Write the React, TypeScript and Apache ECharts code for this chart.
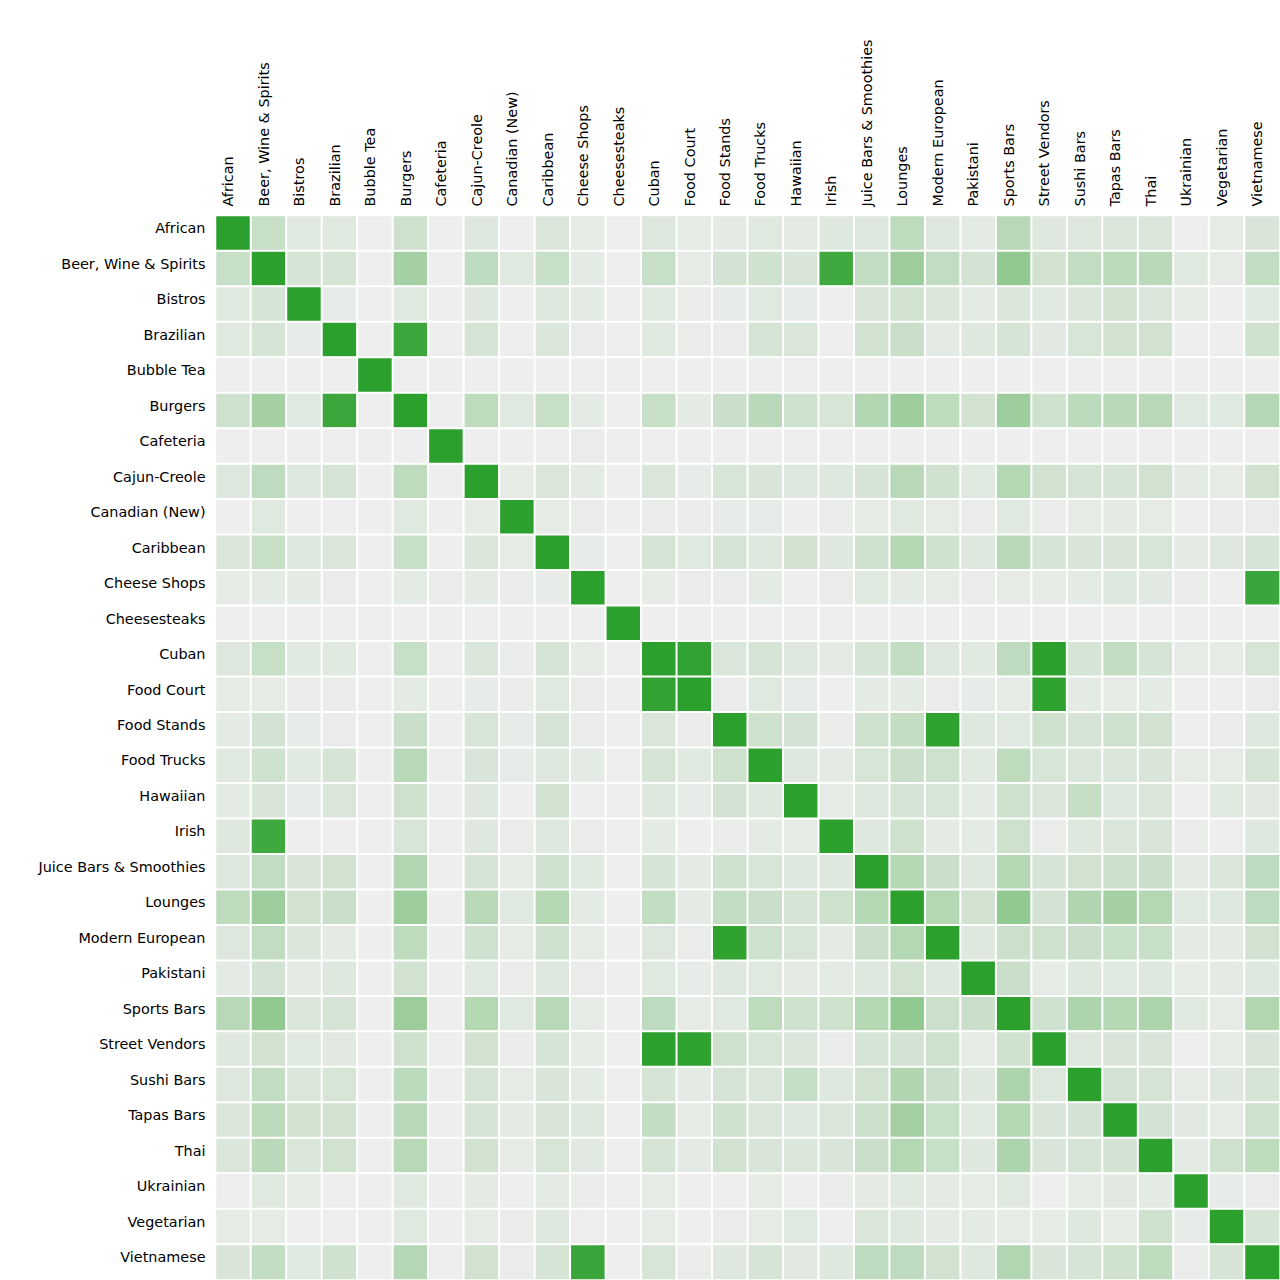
import React, { useEffect, useRef } from "react";
import * as echarts from "echarts";

const categories = [
  "African", "Beer, Wine & Spirits", "Bistros", "Brazilian", "Bubble Tea", "Burgers",
  "Cafeteria", "Cajun-Creole", "Canadian (New)", "Caribbean", "Cheese Shops", "Cheesesteaks",
  "Cuban", "Food Court", "Food Stands", "Food Trucks", "Hawaiian", "Irish",
  "Juice Bars & Smoothies", "Lounges", "Modern European", "Pakistani", "Sports Bars",
  "Street Vendors", "Sushi Bars", "Tapas Bars", "Thai", "Ukrainian", "Vegetarian", "Vietnamese",
];

const rowAfrican = [1,0.2,0.07,0.07,0,0.17,0,0.09,0,0.1,0.04,0,0.09,0.04,0.05,0.07,0.05,0.08,0.09,0.25,0.09,0.05,0.28,0.08,0.09,0.1,0.1,0.01,0.04,0.11];
const rowBeer = [0.2,1,0.13,0.13,0,0.38,0,0.24,0.07,0.2,0.05,0,0.2,0.04,0.14,0.16,0.11,0.9,0.23,0.42,0.23,0.14,0.48,0.15,0.22,0.26,0.27,0.07,0.04,0.22];
const rowBistros = [0.07,0.13,1,0.03,0,0.07,0,0.08,0,0.08,0.05,0,0.07,0.02,0.03,0.07,0.03,0,0.11,0.15,0.1,0.05,0.1,0.07,0.1,0.15,0.1,0.04,0,0.07];
const rowBrazilian = [0.07,0.13,0.03,1,0,0.92,0,0.13,0,0.1,0.02,0,0.07,0.02,0.02,0.13,0.1,0,0.15,0.19,0.05,0.08,0.13,0.06,0.12,0.15,0.15,0,0,0.16];
const rowBubbleTea = [0,0,0,0,1,0,0,0,0,0,0,0,0,0,0,0,0.01,0,0,0,0,0,0,0,0,0,0,0,0,0];
const rowBurgers = [0.17,0.38,0.07,0.92,0,1,0,0.25,0.07,0.2,0.05,0,0.2,0.05,0.19,0.27,0.17,0.12,0.31,0.42,0.25,0.15,0.42,0.17,0.26,0.27,0.28,0.07,0.07,0.29];
const rowCafeteria = [0,0,0,0,0,0,1,0,0,0,0.02,0,0,0,0,0,0,0,0,0,0,0,0,0,0,0,0,0,0,0.01];
const rowCajun = [0.09,0.24,0.08,0.13,0,0.25,0,1,0.04,0.1,0.05,0,0.1,0.03,0.12,0.11,0.08,0.08,0.13,0.28,0.16,0.07,0.3,0.15,0.13,0.13,0.15,0.05,0.04,0.15];
const rowCanadian = [0,0.07,0,0,0,0.07,0,0.04,1,0.04,0.02,0,0.02,0.02,0.03,0.03,0,0.02,0.04,0.07,0.04,0.02,0.07,0.02,0.04,0.05,0.04,0,0.02,0.02];
const rowCaribbean = [0.1,0.2,0.08,0.1,0,0.2,0,0.1,0.04,1,0.03,0,0.13,0.07,0.13,0.08,0.15,0.08,0.16,0.3,0.16,0.08,0.28,0.13,0.11,0.11,0.12,0.05,0.08,0.13];
const rowCheeseShops = [0.04,0.05,0.05,0.02,0,0.05,0.02,0.05,0.02,0.03,1,0,0.04,0.02,0.02,0.05,0,0.02,0.07,0.05,0.04,0.02,0.04,0.04,0.05,0.08,0.06,0.02,0.01,0.93];
const rowCheesesteaks = [0,0,0,0,0,0,0,0,0,0,0,1,0,0,0,0,0,0,0,0,0,0,0,0,0,0,0,0,0,0];
const rowCuban = [0.09,0.2,0.07,0.07,0,0.2,0,0.1,0.02,0.13,0.04,0,1,0.97,0.1,0.13,0.08,0.05,0.13,0.22,0.09,0.07,0.24,1,0.13,0.22,0.13,0.04,0.04,0.12];
const rowFoodCourt = [0.04,0.04,0.02,0.02,0,0.05,0,0.03,0.02,0.07,0.02,0,0.97,1,0.02,0.07,0.03,0,0.05,0.05,0.02,0.03,0.04,0.98,0.05,0.04,0.05,0,0,0.02];
const rowFoodStands = [0.05,0.14,0.03,0.02,0,0.19,0,0.12,0.03,0.13,0.02,0,0.1,0.02,1,0.17,0.14,0.02,0.16,0.22,0.98,0.08,0.07,0.17,0.13,0.16,0.15,0,0.02,0.08];
const rowFoodTrucks = [0.07,0.16,0.07,0.13,0,0.27,0,0.11,0.03,0.08,0.05,0,0.13,0.07,0.17,1,0.08,0.05,0.12,0.19,0.17,0.07,0.25,0.12,0.1,0.1,0.11,0.04,0.04,0.13];
const rowHawaiian = [0.05,0.11,0.03,0.1,0.01,0.17,0,0.08,0,0.15,0,0,0.08,0.03,0.14,0.08,1,0.04,0.09,0.13,0.12,0.05,0.17,0.1,0.21,0.08,0.1,0,0.07,0.06];
const rowIrish = [0.08,0.9,0,0,0,0.12,0,0.08,0.02,0.08,0.02,0,0.05,0,0.02,0.05,0.04,1,0.08,0.17,0.05,0.05,0.17,0.02,0.08,0.1,0.11,0.02,0,0.08];
const rowJuiceBars = [0.09,0.23,0.11,0.15,0,0.31,0,0.13,0.04,0.16,0.07,0,0.13,0.05,0.16,0.12,0.09,0.08,1,0.3,0.19,0.08,0.3,0.13,0.15,0.18,0.19,0.05,0.1,0.24];
const rowLounges = [0.25,0.42,0.15,0.19,0,0.42,0,0.28,0.07,0.3,0.05,0,0.22,0.05,0.22,0.19,0.13,0.17,0.3,1,0.3,0.15,0.48,0.14,0.32,0.38,0.3,0.07,0.08,0.24];
const rowModernEuropean = [0.09,0.23,0.1,0.05,0,0.25,0,0.16,0.04,0.16,0.04,0,0.09,0.02,0.98,0.17,0.12,0.05,0.19,0.3,1,0.08,0.18,0.17,0.19,0.2,0.2,0.05,0.05,0.15];
const rowPakistani = [0.05,0.14,0.05,0.08,0,0.15,0,0.07,0.02,0.08,0.02,0,0.07,0.03,0.08,0.07,0.05,0.05,0.08,0.15,0.08,1,0.19,0.04,0.08,0.07,0.08,0.04,0.05,0.08];
const rowSportsBars = [0.28,0.48,0.1,0.13,0,0.42,0,0.3,0.07,0.28,0.04,0,0.24,0.04,0.07,0.25,0.17,0.17,0.3,0.48,0.18,0.19,1,0.16,0.33,0.3,0.33,0.07,0.04,0.31];
const rowStreetVendors = [0.08,0.15,0.07,0.06,0,0.17,0,0.15,0.02,0.13,0.04,0,1,0.98,0.17,0.12,0.1,0.02,0.13,0.14,0.17,0.04,0.16,1,0.09,0.11,0.11,0,0.04,0.11];
const rowSushiBars = [0.09,0.22,0.1,0.12,0,0.26,0,0.13,0.04,0.11,0.05,0,0.13,0.05,0.13,0.1,0.21,0.08,0.15,0.32,0.19,0.08,0.33,0.09,1,0.14,0.13,0.04,0.08,0.13];
const rowTapasBars = [0.1,0.26,0.15,0.15,0,0.27,0,0.13,0.05,0.11,0.08,0,0.22,0.04,0.16,0.1,0.08,0.1,0.18,0.38,0.2,0.07,0.3,0.11,0.14,1,0.14,0.06,0.04,0.17];
const rowThai = [0.1,0.27,0.1,0.15,0,0.28,0,0.15,0.04,0.12,0.06,0,0.13,0.05,0.15,0.11,0.1,0.11,0.19,0.3,0.2,0.08,0.33,0.11,0.13,0.14,1,0.05,0.17,0.25];
const rowUkrainian = [0.01,0.07,0.04,0,0,0.07,0,0.05,0,0.05,0.02,0,0.04,0,0,0.04,0,0.02,0.05,0.07,0.05,0.04,0.07,0,0.04,0.06,0.05,1,0.03,0.02];
const rowVegetarian = [0.04,0.04,0,0,0,0.07,0,0.04,0.02,0.08,0.01,0,0.04,0,0.02,0.04,0.07,0,0.1,0.08,0.05,0.05,0.04,0.04,0.08,0.04,0.17,0.03,1,0.13];
const rowVietnamese = [0.11,0.22,0.07,0.16,0,0.29,0.01,0.15,0.02,0.13,0.93,0,0.12,0.02,0.08,0.13,0.06,0.08,0.24,0.24,0.15,0.08,0.31,0.11,0.13,0.17,0.25,0.02,0.13,1];

const rows = [
  rowAfrican, rowBeer, rowBistros, rowBrazilian, rowBubbleTea, rowBurgers, rowCafeteria,
  rowCajun, rowCanadian, rowCaribbean, rowCheeseShops, rowCheesesteaks, rowCuban, rowFoodCourt,
  rowFoodStands, rowFoodTrucks, rowHawaiian, rowIrish, rowJuiceBars, rowLounges,
  rowModernEuropean, rowPakistani, rowSportsBars, rowStreetVendors, rowSushiBars, rowTapasBars,
  rowThai, rowUkrainian, rowVegetarian, rowVietnamese,
];

export default function App() {
  const ref = useRef<HTMLDivElement>(null);
  useEffect(() => {
    if (!ref.current) return;
    const chart = echarts.init(ref.current, null, { renderer: "svg" });
    const data: [number, number, number][] = [];
    rows.forEach((r, yi) => r.forEach((v, xi) => data.push([xi, yi, v])));
    const font = "DejaVu Sans";
    chart.setOption({
      animation: false,
      backgroundColor: "#ffffff",
      grid: { left: 215.5, top: 215.5, width: 1065, height: 1065 },
      xAxis: {
        type: "category",
        data: categories,
        position: "top",
        axisLine: { show: false },
        axisTick: { show: false },
        splitLine: { show: false },
        axisLabel: {
          rotate: -90,
          interval: 0,
          margin: 9,
          color: "#000",
          fontFamily: font,
          fontSize: 14.4,
          verticalAlign: "bottom",
          lineHeight: 10,
        },
      },
      yAxis: {
        type: "category",
        data: categories,
        inverse: true,
        axisLine: { show: false },
        axisTick: { show: false },
        splitLine: { show: false },
        axisLabel: {
          interval: 0,
          margin: 10,
          color: "#000",
          fontFamily: font,
          fontSize: 14.4,
          verticalAlign: "bottom",
          lineHeight: 10,
        },
      },
      visualMap: {
        show: false,
        min: 0,
        max: 1,
        dimension: 2,
        inRange: { color: ["#eeeeee", "#2ca02c"] },
      },
      series: [
        {
          type: "heatmap",
          data,
          itemStyle: { borderColor: "#ffffff", borderWidth: 2 },
          emphasis: { disabled: true },
        },
      ],
    });
    return () => chart.dispose();
  }, []);
  return (
    <div
      ref={ref}
      style={{ position: "fixed", left: 0, top: 0, width: 1280, height: 1280, background: "#fff" }}
    />
  );
}
